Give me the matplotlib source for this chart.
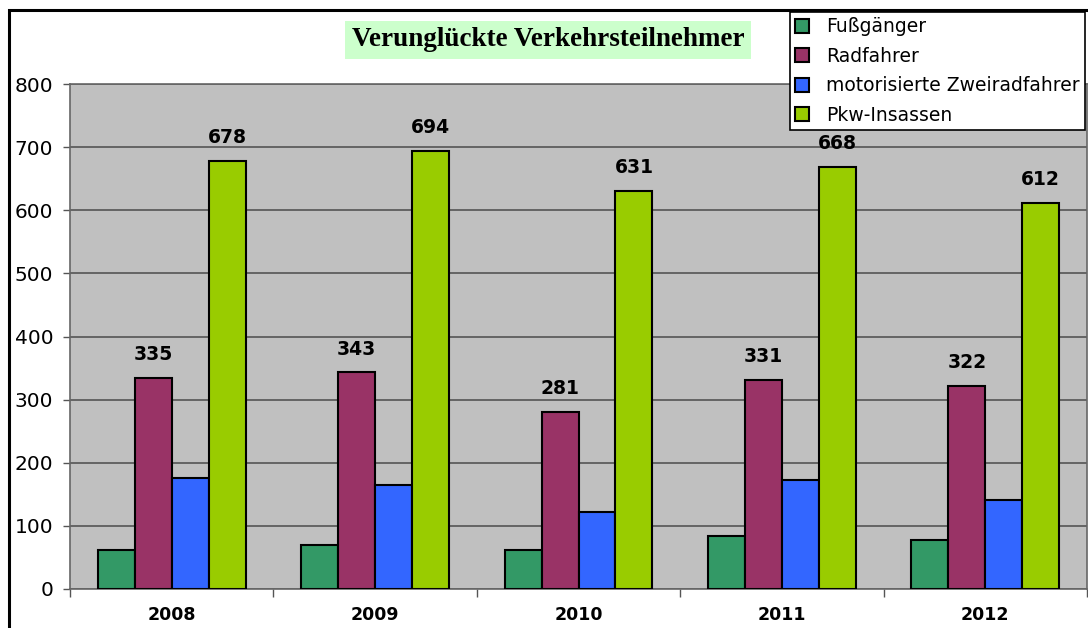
import matplotlib
matplotlib.use("Agg")
import matplotlib.pyplot as plt
from matplotlib.patches import Rectangle
import numpy as np

years = ["2008", "2009", "2010", "2011", "2012"]
series_names = ["Fußgänger", "Radfahrer", "motorisierte Zweiradfahrer", "Pkw-Insassen"]
fussgaenger = [62, 70, 62, 84, 78]
radfahrer = [335, 343, 281, 331, 322]
motorrad = [176, 165, 122, 173, 141]
pkw = [678, 694, 631, 668, 612]
colors = ["#339966", "#993366", "#3366FF", "#99CC00"]
labelled = [False, True, False, True]
title = "Verunglückte Verkehrsteilnehmer"

W, H = 1088, 628
fig = plt.figure(figsize=(W / 100, H / 100), dpi=100)
fig.patch.set_facecolor("white")

ax = fig.add_axes([70 / W, 1 - 589 / H, (1087 - 70) / W, (589 - 84) / H])
ax.set_facecolor("#C0C0C0")

data = [fussgaenger, radfahrer, motorrad, pkw]
n = len(data)
bw = 1 / (n + 1.5)
x = np.arange(len(years))
bars_all = []
for i, (vals, c, name) in enumerate(zip(data, colors, series_names)):
    offs = (i - (n - 1) / 2) * bw
    bars = ax.bar(x + offs, vals, width=bw, color=c, edgecolor="black",
                  linewidth=1.5, label=name, zorder=3)
    bars_all.append(bars)
    if labelled[i]:
        for xi, v in zip(x + offs, vals):
            ax.annotate(str(v), (xi, v), xytext=(0, 10), textcoords="offset points",
                        ha="center", va="bottom", fontsize=13.5, fontweight="bold",
                        family="DejaVu Sans", zorder=5, annotation_clip=False)

ax.set_xlim(-0.5, len(years) - 0.5)
ax.set_ylim(0, 800)
ax.set_yticks(range(0, 801, 100))
ax.yaxis.grid(True, color="#555555", linewidth=1.2, zorder=1)
ax.set_axisbelow(True)
ax.tick_params(axis="y", labelsize=14.5, length=5, width=1, color="#555555", pad=7)

ax.set_xticks(np.arange(len(years) + 1) - 0.5)
ax.set_xticklabels([])
ax.set_xticks(x, minor=True)
ax.set_xticklabels(years, minor=True, fontsize=12.5, fontweight="bold")
ax.tick_params(axis="x", which="major", length=6, width=1, color="#555555")
ax.tick_params(axis="x", which="minor", length=0, pad=12)
for s in ax.spines.values():
    s.set_color("#666666")
    s.set_linewidth(1.2)

# outer chart frame
fig.patches.append(Rectangle((9 / W, -0.1), 1.2, (1 - 10 / H) + 0.1,
                             transform=fig.transFigure, fill=False,
                             edgecolor="black", linewidth=2.2, zorder=0))

# title
fig.text(548 / W, 1 - 40 / H, title, ha="center", va="center",
         fontsize=19.5, fontweight="bold", family="Liberation Serif",
         bbox=dict(boxstyle="square,pad=0.25", facecolor="#CCFFCC", edgecolor="none"))

leg = fig.legend(handles=bars_all, labels=series_names, loc="upper left",
                 bbox_to_anchor=(790 / W, 1 - 12 / H), fontsize=13.5,
                 frameon=True, fancybox=False, framealpha=1, edgecolor="black",
                 handlelength=0.75, handleheight=0.75, handletextpad=0.9,
                 labelspacing=0.56, borderpad=0.28, borderaxespad=0)
leg.get_frame().set_linewidth(1.2)

fig.savefig("out.png", dpi=100, facecolor="white")
